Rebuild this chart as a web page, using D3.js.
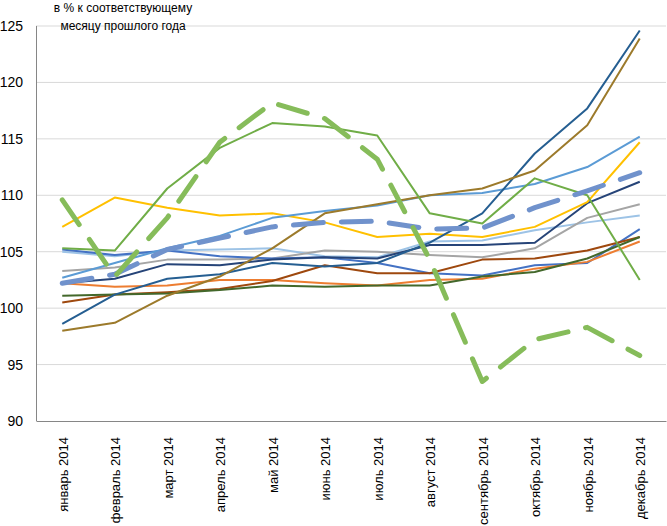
<!DOCTYPE html>
<html>
<head>
<meta charset="utf-8">
<script src="https://d3js.org/d3.v7.min.js"></script>
<style>
  body { margin: 0; background: #fff; }
  text { font-family: "Liberation Sans", Arial, sans-serif; fill: #000; }
</style>
</head>
<body>
<script>
// categories
var months = ["январь 2014", "февраль 2014", "март 2014", "апрель 2014", "май 2014", "июнь 2014",
              "июль 2014", "август 2014", "сентябрь 2014", "октябрь 2014", "ноябрь 2014", "декабрь 2014"];
var yTicks = [90, 95, 100, 105, 110, 115, 120, 125];

// series values
var greenDashed = [109.6, 102.8, 108.0, 114.7, 118.2, 116.8, 113.2, 104.3, 93.5, 97.2, 98.3, 95.8];
var blueDashed  = [102.2, 103.0, 105.2, 106.2, 107.2, 107.6, 107.7, 107.0, 107.1, 108.9, 110.4, 112.0];
var greenSolid  = [105.3, 105.1, 110.6, 114.2, 116.4, 116.1, 115.3, 108.4, 107.5, 111.5, 110.0, 102.5];
var brown       = [98.0, 98.7, 101.1, 102.8, 105.3, 108.4, 109.2, 110.0, 110.6, 112.2, 116.2, 123.9];
var steelBlue   = [98.6, 101.2, 102.6, 103.0, 104.0, 103.7, 104.0, 105.8, 108.4, 113.7, 117.7, 124.6];
var yellow      = [107.2, 109.8, 108.9, 108.2, 108.4, 107.6, 106.3, 106.6, 106.3, 107.2, 109.4, 114.7];
var lightBlue   = [102.7, 104.0, 105.3, 106.4, 108.0, 108.6, 109.1, 110.0, 110.2, 111.0, 112.5, 115.2];
var medBlue     = [105.2, 104.7, 105.1, 104.6, 104.4, 104.5, 104.0, 103.1, 102.9, 103.8, 104.0, 107.0];
var gray        = [103.3, 103.6, 104.3, 104.3, 104.4, 105.1, 105.0, 104.7, 104.5, 105.3, 108.0, 109.2];
var navy        = [102.2, 102.6, 103.9, 103.8, 104.3, 104.5, 104.4, 105.6, 105.6, 105.8, 109.3, 111.2];
var orange      = [102.2, 101.9, 102.0, 102.5, 102.5, 102.2, 102.0, 102.5, 102.6, 103.5, 104.1, 105.9];
var darkGreen   = [101.1, 101.2, 101.3, 101.6, 102.0, 101.9, 102.0, 102.0, 102.8, 103.2, 104.4, 106.3];
var redBrown    = [100.5, 101.2, 101.4, 101.7, 102.4, 103.8, 103.1, 103.1, 104.3, 104.4, 105.1, 106.3];
var paleBlue    = [105.0, 104.6, 105.1, 105.2, 105.3, 104.6, 104.5, 105.9, 106.0, 106.9, 107.6, 108.2];

var series = [
  {values: paleBlue,    color: "#9dc3e6", w: 2},
  {values: gray,        color: "#a5a5a5", w: 2},
  {values: medBlue,     color: "#4472c4", w: 2},
  {values: orange,      color: "#ed7d31", w: 2},
  {values: redBrown,    color: "#9e480e", w: 2},
  {values: darkGreen,   color: "#43682b", w: 2},
  {values: navy,        color: "#264478", w: 2},
  {values: yellow,      color: "#ffc000", w: 2},
  {values: lightBlue,   color: "#5b9bd5", w: 2},
  {values: steelBlue,   color: "#255e91", w: 2},
  {values: brown,       color: "#9c7a2b", w: 2},
  {values: greenSolid,  color: "#70ad47", w: 2},
  {values: blueDashed,  color: "#7092cc", w: 5, dash: "30,18"},
  {values: greenDashed, color: "#86bc5a", w: 5, dash: "30,18"}
];

var margin = {top: 26, right: 1, bottom: 105, left: 36};
var width = 667 - margin.left - margin.right;
var height = 526 - margin.top - margin.bottom;

var svg = d3.select("body").append("svg")
  .attr("width", 667)
  .attr("height", 526)
  .append("g")
  .attr("transform", "translate(" + margin.left + "," + margin.top + ")");

var x = d3.scalePoint().domain(months).range([0, width]).padding(0.5);
var y = d3.scaleLinear().domain([90, 125]).range([height, 0]);

// gridlines
svg.append("g").selectAll("line")
  .data(yTicks.slice(1))
  .enter().append("line")
  .attr("x1", 0).attr("x2", width)
  .attr("y1", function(d) { return y(d); })
  .attr("y2", function(d) { return y(d); })
  .attr("stroke", "#d9d9d9")
  .attr("stroke-width", 1);

// left axis line
svg.append("line")
  .attr("x1", 0.5).attr("x2", 0.5)
  .attr("y1", 0).attr("y2", height)
  .attr("stroke", "#868686");

var yAxis = d3.axisLeft(y).tickValues(yTicks).tickSize(0).tickPadding(13);
var gy = svg.append("g").call(yAxis);
gy.select(".domain").remove();
gy.selectAll("text").style("font-size", "14px").style("font-family", "Liberation Sans, Arial, sans-serif");

var xAxis = d3.axisBottom(x).tickSize(0);
var gx = svg.append("g")
  .attr("transform", "translate(0," + height + ")")
  .call(xAxis);
gx.select(".domain").attr("stroke", "#868686");
gx.selectAll("text")
  .style("font-size", "13px")
  .style("font-family", "Liberation Sans, Arial, sans-serif")
  .attr("text-anchor", "end")
  .attr("dy", null)
  .attr("transform", "translate(5,16) rotate(-90)")
  .attr("x", 0).attr("y", 0);

// lines
var line = d3.line()
  .x(function(d, i) { return x(months[i]); })
  .y(function(d) { return y(d); });

svg.append("g").selectAll("path")
  .data(series)
  .enter().append("path")
  .attr("d", function(s) { return line(s.values); })
  .attr("fill", "none")
  .attr("stroke", function(s) { return s.color; })
  .attr("stroke-width", function(s) { return s.w; })
  .attr("stroke-dasharray", function(s) { return s.dash || null; })
  .attr("stroke-linecap", function(s) { return s.dash ? "round" : "butt"; })
  .attr("stroke-linejoin", "round");

// unit label
var title = svg.append("text")
  .attr("x", 87).attr("y", -14)
  .attr("text-anchor", "middle")
  .style("font-size", "12px");
title.append("tspan").attr("x", 87).attr("dy", 0).text("в % к соответствующему");
title.append("tspan").attr("x", 87).attr("dy", 18).text("месяцу прошлого года");
</script>
</body>
</html>
